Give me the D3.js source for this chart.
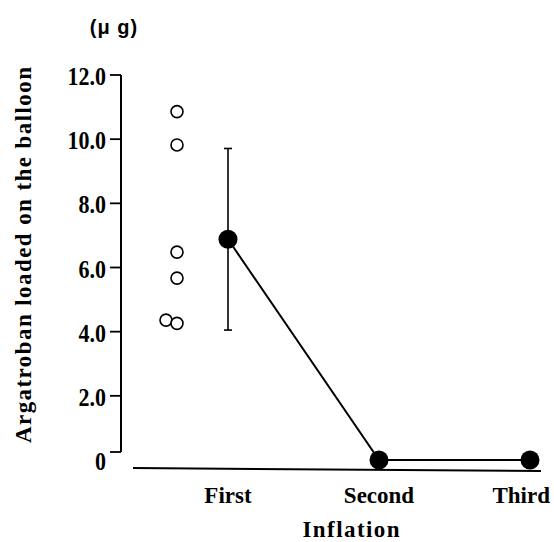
<!DOCTYPE html>
<html>
<head>
<meta charset="utf-8">
<script src="https://cdn.jsdelivr.net/npm/d3@7"></script>
<style>
  body { margin: 0; background: #fff; }
  svg { display: block; }
  .lbl { font-family: "Liberation Serif", "Times New Roman", serif; font-weight: bold; fill: #000; }
</style>
</head>
<body>
<svg width="554" height="542"></svg>
<script>
// values
var categories = ["First", "Second", "Third"];
var meanValues = [6.88, 0, 0];
var sdValues = [2.83, 0, 0];
var firstValues = [10.86, 9.82, 6.48, 5.67, 4.36, 4.26];
var yTicks = [0, 2, 4, 6, 8, 10, 12];
var yTickLabels = ["0", "2.0", "4.0", "6.0", "8.0", "10.0", "12.0"];

var svg = d3.select("svg");
var width = +svg.attr("width");

var x = d3.scalePoint().domain(categories).range([228, 530]);
var y = d3.scaleLinear().domain([0, 12]).range([460, 75]);

var axisX = 121;
var zeroTickY = y(0) - 8; // zero tick is drawn a bit above the data zero

// y axis
svg.append("line")
  .attr("x1", axisX).attr("x2", axisX)
  .attr("y1", y(12)).attr("y2", zeroTickY)
  .attr("stroke", "#000").attr("stroke-width", 2);

svg.selectAll(".tick")
  .data(yTicks)
  .enter().append("line")
  .attr("class", "tick")
  .attr("x1", axisX - 11).attr("x2", axisX)
  .attr("y1", function(d) { return d === 0 ? zeroTickY : y(d); })
  .attr("y2", function(d) { return d === 0 ? zeroTickY : y(d); })
  .attr("stroke", "#000").attr("stroke-width", 1.8);

svg.selectAll(".tlabel")
  .data(yTicks)
  .enter().append("text")
  .attr("class", "lbl tlabel")
  .attr("transform", function(d) { return "translate(" + (axisX - 15) + "," + (y(d) + 10) + ") scale(1,1.12)"; })
  .attr("text-anchor", "end")
  .style("font-size", "22px")
  .text(function(d, i) { return yTickLabels[i]; });

// x baseline (separate from the y axis, slightly tilted)
svg.append("line")
  .attr("x1", 133).attr("y1", y(0) + 8)
  .attr("x2", 541).attr("y2", y(0) + 11)
  .attr("stroke", "#000").attr("stroke-width", 2);

// unit
svg.append("text")
  .attr("x", 114).attr("y", 34)
  .attr("text-anchor", "middle")
  .style("font-family", "'Liberation Sans', Arial, sans-serif")
  .style("font-weight", "bold")
  .style("font-size", "20px")
  .style("letter-spacing", "1px")
  .text("(μ g)");

// y label
svg.append("text")
  .attr("class", "lbl")
  .attr("transform", "translate(31,443) rotate(-90)")
  .attr("textLength", 376)
  .attr("lengthAdjust", "spacing")
  .style("font-size", "23px")
  .text("Argatroban loaded on the balloon");

// category labels, kept inside the right edge
svg.selectAll(".cat")
  .data(categories)
  .enter().append("text")
  .attr("class", "lbl cat")
  .attr("y", 503)
  .attr("text-anchor", "middle")
  .style("font-size", "23px")
  .text(function(d) { return d; })
  .each(function(d) {
    var w = this.getComputedTextLength();
    d3.select(this).attr("x", Math.min(x(d), width - 4 - w / 2));
  });

svg.append("text")
  .attr("class", "lbl")
  .attr("x", 351).attr("y", 537)
  .attr("text-anchor", "middle")
  .attr("textLength", 97)
  .attr("lengthAdjust", "spacing")
  .style("font-size", "23px")
  .text("Inflation");

// individual values for the first inflation (overlapping ones nudged left)
var indiv = firstValues.map(function(v, i) {
  var crowded = firstValues.some(function(w, j) { return j !== i && w < v && v - w < 0.3; });
  return { v: v, dx: crowded ? -62 : -51 };
});

svg.selectAll(".indiv")
  .data(indiv)
  .enter().append("circle")
  .attr("class", "indiv")
  .attr("cx", function(d) { return x("First") + d.dx; })
  .attr("cy", function(d) { return y(d.v); })
  .attr("r", 6)
  .attr("fill", "#fff")
  .attr("stroke", "#000")
  .attr("stroke-width", 1.6);

// error bars
var errData = categories.map(function(c, i) { return { c: c, m: meanValues[i], s: sdValues[i] }; })
  .filter(function(d) { return d.s > 0; });

var err = svg.selectAll(".err").data(errData).enter().append("g").attr("class", "err");
err.append("line")
  .attr("x1", function(d) { return x(d.c); }).attr("x2", function(d) { return x(d.c); })
  .attr("y1", function(d) { return y(d.m + d.s); }).attr("y2", function(d) { return y(d.m - d.s); })
  .attr("stroke", "#000").attr("stroke-width", 1.6);
err.selectAll(".cap")
  .data(function(d) { return [{ c: d.c, v: d.m + d.s }, { c: d.c, v: d.m - d.s }]; })
  .enter().append("line")
  .attr("x1", function(d) { return x(d.c) - 4; }).attr("x2", function(d) { return x(d.c) + 4; })
  .attr("y1", function(d) { return y(d.v); }).attr("y2", function(d) { return y(d.v); })
  .attr("stroke", "#000").attr("stroke-width", 1.6);

// mean line + points
var line = d3.line()
  .x(function(d, i) { return x(categories[i]); })
  .y(function(d) { return y(d); });

svg.append("path")
  .datum(meanValues)
  .attr("d", line)
  .attr("fill", "none")
  .attr("stroke", "#000")
  .attr("stroke-width", 2);

svg.selectAll(".mean")
  .data(meanValues)
  .enter().append("circle")
  .attr("class", "mean")
  .attr("cx", function(d, i) { return x(categories[i]); })
  .attr("cy", function(d) { return y(d); })
  .attr("r", 9.5)
  .attr("fill", "#000");
</script>
</body>
</html>
